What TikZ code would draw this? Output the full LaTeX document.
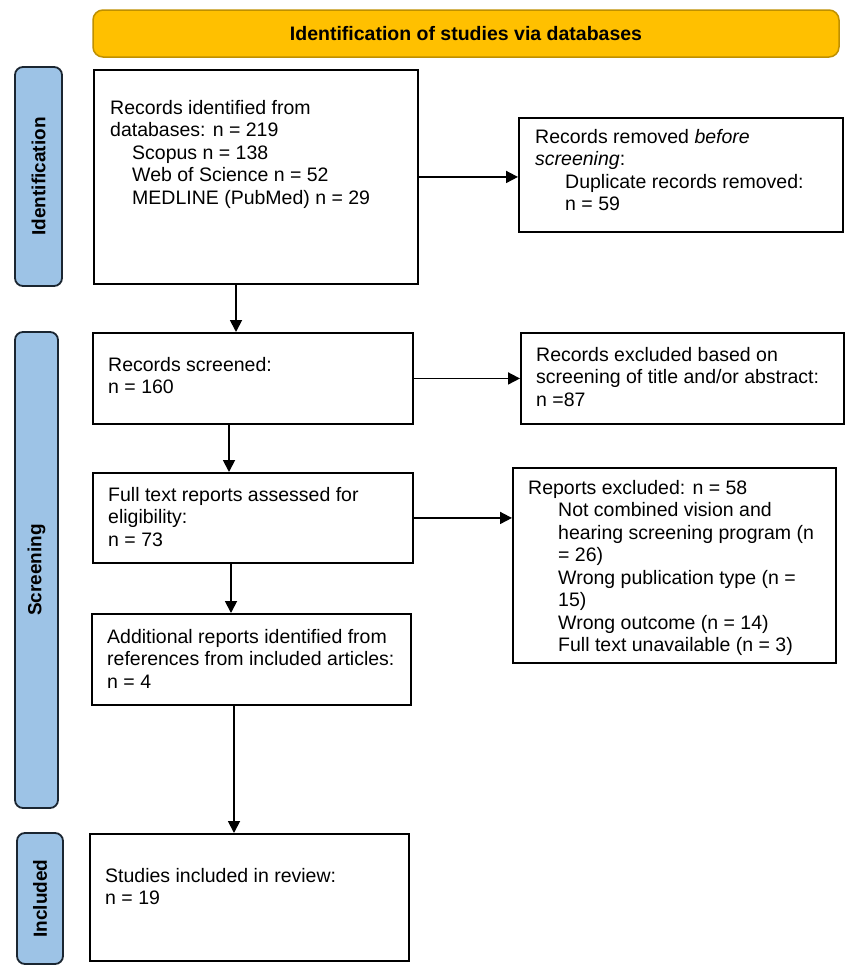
\documentclass[tikz,border=0pt]{standalone}
\usepackage{fontspec}
\setmainfont{Liberation Sans}
\usetikzlibrary{arrows.meta}
\definecolor{bannerfill}{HTML}{FFC000}
\definecolor{bannerdraw}{HTML}{BF9000}
\definecolor{barfill}{HTML}{9DC3E6}
\definecolor{bardraw}{HTML}{1B2631}
\newcommand\bodyfs{\fontsize{19.5}{22.5}\selectfont}
\tikzset{
  flowbox/.style={draw=black, line width=1.9pt, fill=white, inner sep=0pt, anchor=north west},
  txt/.style={inner sep=0pt, anchor=north west, align=left, font=\bodyfs},
  sidebar/.style={draw=bardraw, fill=barfill, line width=1.8pt, rounded corners=8pt},
  sidelabel/.style={inner sep=0pt, rotate=90, font=\fontsize{19}{22}\selectfont\bfseries},
  arr/.style={line width=1.8pt, -{Triangle[length=12pt,width=12pt]}}
}
\begin{document}
\begin{tikzpicture}[x=1pt,y=-1pt]
\useasboundingbox[fill=white] (0,0) rectangle (857,978);
% banner
\draw[fill=bannerfill, draw=bannerdraw, line width=1.5pt, rounded corners=10pt] (93,10) rectangle (839,57);
\node[inner sep=0pt, font=\fontsize{19.5}{22}\selectfont\bfseries] (banner) at (466,33.5) {Identification of studies via databases};
% side bars
\draw[sidebar] (15,67) rectangle (62,286);
\node[sidelabel] (lid) at (38.5,176.5) {Identification};
\draw[sidebar] (15,332) rectangle (58,808);
\node[sidelabel] (lsc) at (36.5,570) {Screening};
\draw[sidebar] (17,833) rectangle (63,964);
\node[sidelabel] (lin) at (40,898.5) {Included};
% boxes
\node[flowbox, minimum width=324pt, minimum height=214pt] (box1) at (93,69) {};
\node[flowbox, minimum width=324pt, minimum height=114pt] (box2) at (518,117) {};
\node[flowbox, minimum width=320pt, minimum height=91pt] (box3) at (92,332) {};
\node[flowbox, minimum width=320pt, minimum height=90pt] (box4) at (92,472) {};
\node[flowbox, minimum width=319pt, minimum height=91pt] (box5) at (91,613) {};
\node[flowbox, minimum width=323pt, minimum height=91pt] (box6) at (520,332) {};
\node[flowbox, minimum width=323pt, minimum height=195pt] (box7) at (512,467) {};
\node[flowbox, minimum width=319pt, minimum height=127pt] (box8) at (89,833) {};
% texts
\node[txt] (t1) at (110,100) {Records identified from\\databases: n = 219\\\hspace*{22pt}Scopus n = 138\\\hspace*{22pt}Web of Science n = 52\\\hspace*{22pt}MEDLINE (PubMed) n = 29};
\node[txt] (t2) at (535,129) {Records removed \textit{before}\\\textit{screening}:\\\hspace*{30pt}Duplicate records removed:\\\hspace*{30pt}n = 59};
\node[txt] (t3) at (108,357) {Records screened:\\n = 160};
\node[txt] (t4) at (108,487) {Full text reports assessed for\\eligibility:\\n = 73};
\node[txt] (t5) at (107,629) {Additional reports identified from\\references from included articles:\\n = 4};
\node[txt] (t6) at (536,347) {Records excluded based on\\screening of title and/or abstract:\\n =87};
\node[txt] (t7) at (528,480) {Reports excluded: n = 58\\\hspace*{30pt}Not combined vision and\\\hspace*{30pt}hearing screening program (n\\\hspace*{30pt}= 26)\\\hspace*{30pt}Wrong publication type (n =\\\hspace*{30pt}15)\\\hspace*{30pt}Wrong outcome (n = 14)\\\hspace*{30pt}Full text unavailable (n = 3)};
\node[txt] (t8) at (105,868) {Studies included in review:\\n = 19};
% arrow x positions
\coordinate (x1) at (236,0);
\coordinate (x2) at (229,0);
\coordinate (x3) at (231,0);
\coordinate (x4) at (234,0);
% arrows
\draw[arr] (box1.south -| x1) -- (box3.north -| x1);
\draw[arr] (box3.south -| x2) -- (box4.north -| x2);
\draw[arr] (box4.south -| x3) -- (box5.north -| x3);
\draw[arr] (box5.south -| x4) -- (box8.north -| x4);
\draw[arr] (box1.east) -- (box1.east -| box2.west);
\draw[arr] (box3.east) -- (box3.east -| box6.west);
\draw[arr] (box4.east) -- (box4.east -| box7.west);
\end{tikzpicture}
\end{document}
